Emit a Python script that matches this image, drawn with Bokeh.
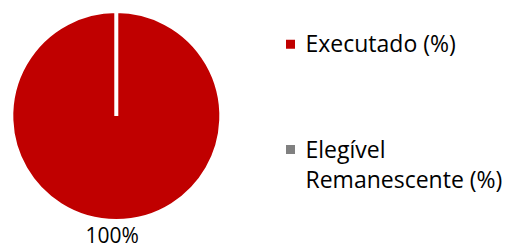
import math
from bokeh.plotting import figure
from bokeh.models import Range1d, ColumnDataSource
from bokeh.core.properties import value
from bokeh.embed import file_html
from bokeh.resources import INLINE

# ---- data ----
categories = ["Executado (%)", "Elegível\nRemanescente (%)"]
values = [100, 0]
colors = ["#C00000", "#808080"]
data_label = "100%"

# ---- layout ----
W, H = 508, 244
FONT = "Open Sans"
DY = 8.5  # compensation for baseline placement of the svg text

p = figure(width=W, height=H, output_backend="svg", toolbar_location=None,
           x_range=Range1d(0, W), y_range=Range1d(0, H),
           min_border=0, outline_line_color=None)
p.axis.visible = False
p.grid.visible = False
p.background_fill_color = "white"
p.border_fill_color = "white"

total = sum(values)
starts, ends, cols = [], [], []
cum = 0.0
for v, c in zip(values, colors):
    a0 = math.pi / 2 - 2 * math.pi * cum / total
    cum += v
    a1 = math.pi / 2 - 2 * math.pi * cum / total
    if v <= 0:
        continue
    if a0 - a1 >= 2 * math.pi - 1e-9:  # full circle: avoid degenerate arc
        a1 = a0 - (2 * math.pi - 1e-4)
    starts.append(a0)
    ends.append(a1)
    cols.append(c)

cx, cy, r = 115.8, 128.5, 105
src = ColumnDataSource(dict(start=starts, end=ends, color=cols))
p.wedge(x=cx, y=cy, radius=r, start_angle="start", end_angle="end", direction="clock",
        fill_color="color", line_color="white", line_width=4, source=src)

# data label of the (only) visible slice
p.text(x=[111.7], y=[1.0 + DY], text=[data_label], text_font=value(FONT),
       text_font_size="21px", text_color="#000000", text_align="center",
       text_baseline="alphabetic")

# legend (manual)
mk_x, tx_x = 290, 305
entries_y = [193, 87.3]      # baseline of first line of each entry
marker_y = [200.3, 95]
line_gap = 30
lx, ly, lt = [], [], []
for cat, yb in zip(categories, entries_y):
    for i, line in enumerate(cat.split("\n")):
        lx.append(tx_x)
        ly.append(yb - i * line_gap + DY)
        lt.append(line)
p.scatter(x=[mk_x] * len(colors), y=marker_y, marker="square", size=9,
          fill_color=colors, line_color=None)
p.text(x=lx, y=ly, text=lt, text_font=value(FONT), text_font_size="23px",
       text_color="#000000", text_align="left", text_baseline="alphabetic")

open("out.html", "w").write(file_html(p, INLINE))
